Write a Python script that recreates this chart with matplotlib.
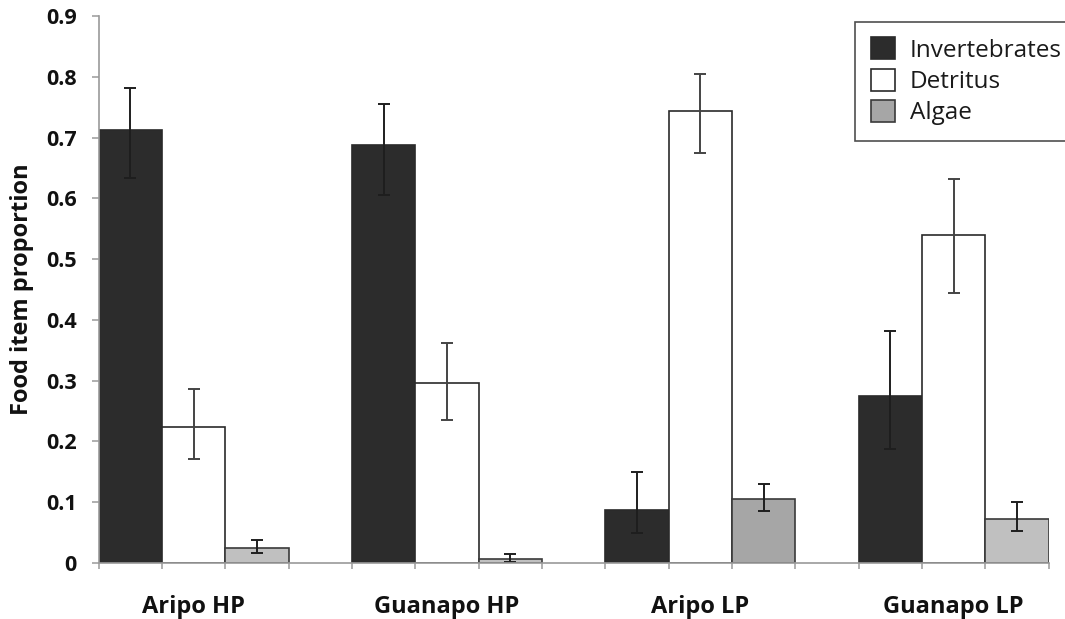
import numpy as np
import matplotlib
matplotlib.use("Agg")
import matplotlib.pyplot as plt

# Diet composition per population (proportion of food items)
sites = ["Aripo HP", "Guanapo HP", "Aripo LP", "Guanapo LP"]
series = ["Invertebrates", "Detritus", "Algae"]

invert = [0.713, 0.687, 0.087, 0.274]
invert_lo = [0.633, 0.606, 0.050, 0.187]
invert_hi = [0.781, 0.756, 0.149, 0.382]

detritus = [0.224, 0.296, 0.744, 0.539]
detritus_lo = [0.171, 0.236, 0.674, 0.444]
detritus_hi = [0.287, 0.362, 0.804, 0.631]

algae = [0.025, 0.007, 0.106, 0.072]
algae_lo = [0.016, 0.001, 0.086, 0.052]
algae_hi = [0.038, 0.015, 0.130, 0.100]

yticks = [0, 0.1, 0.2, 0.3, 0.4, 0.5, 0.6, 0.7, 0.8, 0.9]
ytick_labels = ["0", "0.1", "0.2", "0.3", "0.4", "0.5", "0.6", "0.7", "0.8", "0.9"]

plt.rcParams["font.family"] = ["Open Sans", "DejaVu Sans"]

fig = plt.figure(figsize=(10.65, 6.19), dpi=100)
ax = fig.add_axes([98.5 / 1065, 56 / 619, 950 / 1065, 547 / 619])

# bar layout: one bar width per series, one empty slot between sites
bw = 1.0
period = 4.0
x0 = np.arange(len(sites)) * period

def errs(vals, lo, hi):
    v = np.array(vals)
    return np.vstack([v - np.array(lo), np.array(hi) - v])

ekw = dict(ecolor="#1e1e1e", elinewidth=1.4, capsize=4.5, capthick=1.4)
edge = "#2a2a2a"

ax.bar(x0 + 0.5, invert, bw, yerr=errs(invert, invert_lo, invert_hi),
       color="#2c2c2c", edgecolor=edge, linewidth=1.2, label=series[0],
       error_kw=ekw)
ax.bar(x0 + 1.5, detritus, bw, yerr=errs(detritus, detritus_lo, detritus_hi),
       color="white", edgecolor=edge, linewidth=1.2, label=series[1],
       error_kw=dict(ekw, ecolor="#444444"))
algae_bars = ax.bar(x0 + 2.5, algae, bw, yerr=errs(algae, algae_lo, algae_hi),
                    color="#a6a6a6", edgecolor="#3a3a3a", linewidth=1.2,
                    label=series[2], error_kw=ekw)
# the high-predation and Guanapo LP algae bars are a lighter grey
for b, c in zip(algae_bars, ["#c0c0c0", "#c0c0c0", "#a6a6a6", "#c0c0c0"]):
    b.set_facecolor(c)

ax.set_xlim(0, 15)
ax.set_ylim(0, 0.9)

for s in ["top", "right"]:
    ax.spines[s].set_visible(False)
for s in ["left", "bottom"]:
    ax.spines[s].set_color("#9a9a9a")
    ax.spines[s].set_linewidth(1.2)

ax.set_yticks(yticks)
ax.set_yticklabels(ytick_labels, fontsize=15.5, fontweight="bold", color="#111111")
ax.tick_params(axis="y", length=5, width=1.1, color="#9a9a9a", pad=10.5)

ax.set_xticks(x0 + 1.5)
ax.set_xticklabels(sites, fontsize=17, fontweight="bold", color="#111111")
ax.set_xticks(np.arange(0, 16), minor=True)
ax.tick_params(axis="x", which="major", length=0, pad=23)
ax.tick_params(axis="x", which="minor", length=4, width=1.1, color="#9a9a9a")

ax.set_ylabel("Food item proportion", fontsize=17, fontweight="bold", color="#111111")
ax.yaxis.set_label_coords(-0.068, 0.5)

leg = fig.legend(loc="upper left", bbox_to_anchor=(855 / 1065, 1 - 21.7 / 619),
                 fontsize=17.5, frameon=True, fancybox=False, handlelength=1.0,
                 handleheight=1.0, handletextpad=0.6, labelspacing=0.25,
                 borderpad=0.65, borderaxespad=0)
leg.get_frame().set_edgecolor("#222222")
leg.get_frame().set_linewidth(1.2)
leg.get_patches()[2].set_facecolor("#a6a6a6")
for t in leg.get_texts():
    t.set_color("#1a1a1a")

fig.savefig("out.png", dpi=100)
